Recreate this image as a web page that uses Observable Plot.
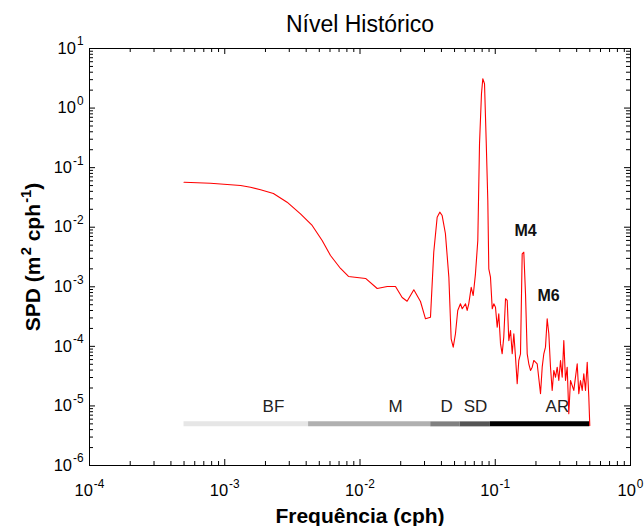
<!DOCTYPE html>
<html>
<head>
<meta charset="utf-8">
<script src="https://cdn.jsdelivr.net/npm/d3@7"></script>
<script src="https://cdn.jsdelivr.net/npm/@observablehq/plot@0.6"></script>
<style>
  body { margin: 0; background: #fff; }
  g[aria-label="x-axis tick label"] text, g[aria-label="y-axis tick label"] text { font-size: 16.5px !important; }
</style>
</head>
<body>
<div id="chart"></div>
<script>
// ---- Data ----
const freq = [5e-4, 7.84e-4, 1.31e-3, 1.55e-3, 1.84e-3, 2.29e-3, 2.89e-3, 3.63e-3, 4.43e-3, 5.25e-3,
  6.05e-3, 7.18e-3, 8.22e-3,
  0.0110, 0.0134, 0.0159, 0.0183, 0.0205, 0.0223, 0.0250, 0.0280, 0.0305, 0.0332,
  0.0351, 0.0372, 0.0389, 0.0405, 0.0428, 0.0454, 0.0472, 0.0489, 0.0508, 0.0528,
  0.0553, 0.0570, 0.0603, 0.0620, 0.0637, 0.0664, 0.0687, 0.0714, 0.0743, 0.0765,
  0.0791, 0.0809, 0.0833, 0.0857, 0.0881, 0.0896, 0.0922, 0.0950, 0.0976, 0.1004,
  0.1034, 0.1062, 0.1094, 0.1125, 0.1156, 0.1191, 0.1226, 0.1260, 0.1297, 0.1335,
  0.1372, 0.1412, 0.1453, 0.1493, 0.1537, 0.1582, 0.1626, 0.1674, 0.1723, 0.1770,
  0.1823, 0.1876, 0.1928, 0.2042, 0.2161, 0.2224, 0.2286, 0.2352, 0.2421, 0.2489,
  0.2562, 0.2636, 0.2710, 0.2790, 0.2871, 0.2951, 0.3038, 0.3126, 0.3213, 0.3307,
  0.3404, 0.3498, 0.3601, 0.3809, 0.4036, 0.4147, 0.4269, 0.4395, 0.4516, 0.4649,
  0.4786, 0.4918, 0.5];
const spd = [0.0570, 0.0548, 0.0501, 0.0470, 0.0425, 0.0368, 0.0263, 0.0168, 0.0107, 5.98e-3,
  3.35e-3, 2.03e-3, 1.49e-3,
  1.38e-3, 9.35e-4, 1.01e-3, 1.01e-3, 6.6e-4, 5.73e-4, 8.9e-4, 5.66e-4, 2.9e-4, 3.08e-4,
  3.8e-3, 0.0147, 0.0179, 0.0157, 7.84e-3, 1.45e-3, 1.34e-4, 9.7e-5, 1.63e-4, 4.0e-4,
  5.18e-4, 4.27e-4, 5.18e-4, 4.0e-4, 5.18e-4, 9.8e-4, 7.14e-4, 1.65e-3, 5.98e-3, 0.251,
  1.74, 3.10, 2.56, 0.286, 0.0281, 2.0e-3, 1.45e-3, 4.27e-4, 5.18e-4, 4.54e-4,
  2.1e-4, 3.52e-4, 1.1e-4, 7.5e-5, 1.43e-4, 6.3e-4, 5.9e-4, 1.25e-4, 1.85e-4, 7.5e-5,
  1.63e-4, 6.6e-5, 2.35e-5, 5.8e-5, 7.5e-5, 3.58e-3, 3.8e-3, 7.6e-4, 7.5e-5, 5.1e-5,
  3.94e-5, 4.47e-5, 5.8e-5, 5.1e-5, 1.6e-5, 4.47e-5, 7.5e-5, 9.7e-5, 2.9e-4, 1.63e-4,
  4.47e-5, 1.82e-5, 3.94e-5, 3.03e-5, 4.47e-5, 2.67e-5, 5.8e-5, 3.03e-5, 1.25e-4, 2.67e-5,
  4.47e-5, 7.4e-6, 2.67e-5, 1.82e-5, 5.1e-5, 1.6e-5, 2.67e-5, 1.82e-5, 3.46e-5, 1.82e-5,
  5.42e-5, 1.4e-5, 4.7e-6];

// Frequency bands drawn as a bar near the bottom
const bandNames  = ["BF", "M", "D", "SD", "AR"];
const bandStart  = [5e-4, 1/240, 1/30, 0.055, 0.092];
const bandEnd    = [1/240, 1/30, 0.055, 0.092, 0.5];
const bandColors = ["#e6e6e6", "#b0b0b0", "#808080", "#555555", "#000000"];
const bandLevel  = 5e-6;
const bandLabelX = [2.29e-3, 0.0183, 0.0437, 0.0714, 0.288];

// Peak annotations
const peakNames = ["M4", "M6"];
const peakX = [0.1675, 0.248];
const peakY = [8.8e-3, 7.1e-4];

// Axis ticks
const xDomain = [1e-4, 1];
const yDomain = [1e-6, 10];
const xMajor = [1e-4, 1e-3, 1e-2, 1e-1, 1];
const yMajor = [1e-6, 1e-5, 1e-4, 1e-3, 1e-2, 1e-1, 1, 10];
const isPow10 = v => Math.abs(Math.log10(v) - Math.round(Math.log10(v))) < 1e-9;
const xMinor = d3.scaleLog().domain(xDomain).ticks().filter(v => !isPow10(v));
const yMinor = d3.scaleLog().domain(yDomain).ticks().filter(v => !isPow10(v));

const titleText = "Nível Histórico";
const xLabelText = "Frequência (cph)";
const yLabelText = "SPD (m^2 cph^-1)";

// ---- Layout ----
const W = 644, H = 526;
const mt = 48, mb = 61, ml = 89, mr = 14;
const fh = H - mt - mb, fw = W - ml - mr;
const expFmt = d => "10^" + Math.round(Math.log10(d));

const chart = Plot.plot({
  width: W, height: H,
  marginTop: mt, marginBottom: mb, marginLeft: ml, marginRight: mr,
  x: {type: "log", domain: xDomain},
  y: {type: "log", domain: yDomain},
  color: {type: "identity"},
  style: {fontFamily: "'Liberation Sans', Arial, sans-serif", fontSize: "15px", color: "black", background: "white", overflow: "visible"},
  marks: [
    // band bar
    Plot.ruleY(bandNames, {y: () => bandLevel, x1: (d, i) => bandStart[i], x2: (d, i) => bandEnd[i], stroke: (d, i) => bandColors[i], strokeWidth: 5}),
    Plot.text(bandNames, {x: (d, i) => bandLabelX[i], y: () => bandLevel, dy: -17, fontSize: 17, fill: "#222"}),
    // spectrum
    Plot.line(freq, {x: freq, y: spd, stroke: "#ff0000", strokeWidth: 1.1}),
    // peak labels
    Plot.text(peakNames, {x: (d, i) => peakX[i], y: (d, i) => peakY[i], fontSize: 16, fontWeight: "bold", fill: "#111"}),
    // frame & inward ticks on all sides
    Plot.frame({stroke: "black"}),
    Plot.tickX(xMajor, {insetTop: fh - 6, stroke: "black"}),
    Plot.tickX(xMajor, {insetBottom: fh - 6, stroke: "black"}),
    Plot.tickX(xMinor, {insetTop: fh - 4, stroke: "black"}),
    Plot.tickX(xMinor, {insetBottom: fh - 4, stroke: "black"}),
    Plot.tickY(yMajor, {insetRight: fw - 6, stroke: "black"}),
    Plot.tickY(yMajor, {insetLeft: fw - 6, stroke: "black"}),
    Plot.tickY(yMinor, {insetRight: fw - 4, stroke: "black"}),
    Plot.tickY(yMinor, {insetLeft: fw - 4, stroke: "black"}),
    // tick labels
    Plot.axisX({ticks: xMajor, anchor: "bottom", tickSize: 0, tickPadding: 19, tickFormat: expFmt, label: null}),
    Plot.axisY({ticks: yMajor, anchor: "left", tickSize: 0, tickPadding: 6, tickFormat: expFmt, label: null}),
    // titles
    Plot.text([titleText], {frameAnchor: "top", dy: -24, lineAnchor: "middle", textAnchor: "middle", fontSize: 23}),
    Plot.text([xLabelText], {frameAnchor: "bottom", dy: 51, lineAnchor: "middle", textAnchor: "middle", fontSize: 21, fontWeight: "bold"}),
    Plot.text([yLabelText], {frameAnchor: "left", dx: -56, rotate: -90, lineAnchor: "middle", textAnchor: "middle", fontSize: 21, fontWeight: "bold"})
  ]
});

// turn "10^-4" style strings into real superscripts
function supify(node) {
  const s = node.textContent;
  if (!s.includes("^")) return;
  const tick = s.startsWith("10^");
  const parts = s.split(/(\^-?\d+)/).filter(p => p !== "");
  node.textContent = "";
  let raised = false;
  for (const p of parts) {
    const ts = document.createElementNS("http://www.w3.org/2000/svg", "tspan");
    if (p[0] === "^") {
      ts.textContent = p.slice(1);
      ts.setAttribute("font-size", tick ? "0.72em" : "0.7em");
      ts.setAttribute("dy", tick ? "-0.7em" : "-0.65em");
      ts.setAttribute("dx", "0.08em");
      raised = true;
    } else {
      ts.textContent = p;
      if (raised) ts.setAttribute("dy", "0.455em");
      raised = false;
    }
    node.appendChild(ts);
  }
}
chart.querySelectorAll("text").forEach(supify);

document.getElementById("chart").appendChild(chart);
</script>
</body>
</html>
